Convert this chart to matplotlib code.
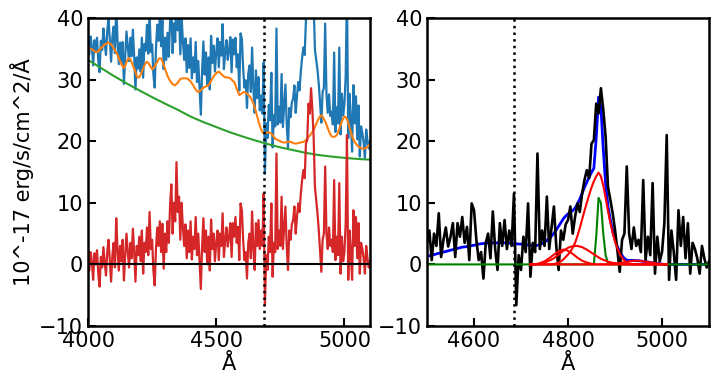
import numpy as np
import matplotlib
matplotlib.use('Agg')
import matplotlib.pyplot as plt

# rest-frame wavelength grid of the spectrum (5 A steps)
wave = np.arange(4000, 5101, 5)

# host-subtracted spectrum (red in left panel, black in right panel)
residual = [
    1.5, -1.0, 2.0, 0.5, -2.5, 1.8, 0.0, 2.3, -1.5, -3.6,
    1.2, -0.5, 2.8, 0.3, -1.8, 2.0, 4.0, 0.5, -2.8, 1.5,
    3.5, -0.5, 7.5, 2.5, -1.0, 3.0, 0.5, 4.0, -2.6, 1.5,
    5.0, 2.0, -0.5, 3.5, 1.0, 5.8, 2.0, -2.8, 3.0, 1.5,
    4.5, 0.5, 5.5, -1.5, 3.5, 2.0, 6.0, 1.5, 8.5, 2.5,
    4.0, -1.0, -3.4, 2.5, 6.0, 3.0, 7.0, 2.0, 6.6, -0.7,
    5.0, 2.0, 7.0, 3.5, 9.5, 13.0, 5.0, 10.0, 7.0, 16.6,
    8.5, 11.0, 4.0, 10.0, 6.0, 3.0, 6.5, 1.0, 5.5, 2.0,
    7.0, 0.8, 4.5, 2.5, 7.7, 1.5, 5.0, 0.5, -4.0, 3.0,
    7.5, 2.0, 5.5, 0.0, 4.5, -1.0, 7.3, 2.5, 5.0, 0.5,
    3.5, 5.5, 0.7, 5.0, 3.0, 8.3, 1.2, 4.0, 6.0, 2.9,
    4.5, 6.7, 1.2, 6.7, 4.5, 7.7, 3.5, 6.1, 0.7, 9.9,
    8.8, 4.0, 0.7, 2.0, -2.3, 3.5, 5.0, 1.0, 8.6, 2.5,
    -0.9, 6.7, 3.0, 7.2, 2.5, 5.5, 3.0, 11.5, -6.6, 1.5,
    -0.9, 4.5, 2.0, 9.9, -2.0, 3.5, 2.0, 18.0, 2.5, 5.5,
    3.0, 11.0, 2.5, 6.0, 9.4, 3.0, -0.9, 5.5, 4.0, 6.5,
    7.2, 9.4, 5.0, 7.7, 9.9, 8.5, 11.5, 13.7, 15.3, 14.0,
    19.6, 20.2, 26.1, 24.5, 28.6, 25.1, 20.7, 12.6, 10.5, 8.3,
    5.6, 2.3, -1.2, 4.0, 5.0, 15.9, 5.0, 2.5, 6.0, 3.0,
    4.0, 2.0, 13.7, 0.7, 4.5, 1.5, 13.2, -1.5, 4.5, 0.5,
    2.0, 6.7, 21.0, -2.5, 5.5, 2.0, -2.5, 8.8, 3.0, 7.7,
    1.0, 6.7, -1.5, 3.5, 2.5, 1.0, -1.5, 3.0, 1.0, -0.5,
    0.5,
]

# host galaxy + continuum model (orange)
host = [
    35.2, 35.1, 35.0, 34.9, 34.8, 34.6, 34.5, 34.5, 34.6, 34.8,
    35.1, 35.3, 35.5, 35.7, 35.8, 35.9, 36.0, 35.9, 35.7, 35.4,
    35.1, 34.8, 34.4, 34.0, 33.5, 33.0, 32.5, 32.1, 31.9, 32.3,
    32.8, 33.3, 33.5, 33.3, 32.8, 32.3, 31.8, 31.2, 30.6, 30.3,
    30.4, 30.8, 31.3, 31.8, 32.3, 32.7, 32.9, 32.7, 32.4, 32.0,
    31.7, 31.8, 32.1, 32.5, 32.9, 33.3, 33.5, 33.4, 33.0, 32.4,
    31.8, 31.2, 30.6, 30.2, 29.8, 29.5, 29.3, 29.1, 29.1, 29.3,
    29.5, 29.8, 30.1, 30.2, 30.2, 30.2, 30.2, 30.2, 30.1, 29.9,
    29.7, 29.4, 29.1, 28.7, 28.4, 28.1, 28.0, 28.1, 28.3, 28.5,
    28.7, 28.8, 28.9, 29.0, 29.1, 29.4, 29.8, 30.2, 30.5, 30.8,
    31.0, 31.2, 31.3, 31.1, 30.9, 30.7, 30.5, 30.4, 30.4, 30.3,
    30.3, 30.2, 30.0, 29.8, 29.6, 29.1, 28.5, 28.0, 27.5, 27.6,
    27.8, 27.9, 28.0, 27.9, 27.7, 27.5, 27.3, 27.0, 26.6, 26.1,
    25.5, 24.8, 24.0, 23.2, 22.5, 21.9, 21.5, 21.3, 21.3, 21.4,
    21.4, 21.4, 21.4, 21.2, 21.0, 20.7, 20.4, 20.3, 20.2, 20.1,
    20.0, 19.9, 19.8, 19.8, 19.8, 19.85, 19.9, 19.9, 19.9, 19.8,
    19.7, 19.65, 19.6, 19.65, 19.7, 19.75, 19.8, 19.85, 19.9, 20.0,
    20.2, 20.4, 20.7, 20.9, 21.2, 21.5, 21.8, 22.3, 22.8, 23.3,
    23.7, 24.0, 24.2, 24.0, 23.6, 23.2, 22.7, 22.1, 21.6, 21.1,
    20.8, 20.7, 20.7, 20.8, 21.0, 21.4, 22.0, 22.6, 23.2, 23.7,
    24.0, 23.9, 23.6, 23.0, 22.2, 21.5, 20.8, 20.3, 19.9, 19.6,
    19.3, 19.1, 19.0, 18.9, 18.8, 18.8, 18.8, 18.9, 19.1, 19.3,
    19.5,
]

# power-law continuum (green), 50 A steps
wave50 = np.arange(4000, 5101, 50)
powerlaw = [33.2, 31.9, 30.6, 29.4, 28.25, 27.15, 26.1, 25.1, 24.0, 23.1, 22.3, 21.5,
            20.8, 20.15, 19.55, 19.0, 18.55, 18.1, 17.75, 17.5, 17.3, 17.12, 17.0]

# line fit components on 4500-5100 (5 A steps)
fit_wave = np.arange(4500, 5101, 5)
n_fit = len(fit_wave)

def place(start, values):
    arr = np.zeros(n_fit)
    i = (start - 4500) // 5
    arr[i:i + len(values)] = values
    return arr

# broad feature under HeII 4686
bump = place(4500, [1.3, 1.4, 1.5, 1.6, 1.7, 1.8, 1.9, 2.0, 2.1, 2.2,
                    2.3, 2.4, 2.5, 2.6, 2.7, 2.8, 2.85, 2.9, 3.0, 3.05,
                    3.1, 3.2, 3.3, 3.35, 3.4, 3.45, 3.45, 3.5, 3.5, 3.5,
                    3.5, 3.5, 3.5, 3.5, 3.45, 3.45, 3.4, 3.4, 3.35, 3.3,
                    3.3, 3.25, 3.2, 3.15, 3.1, 3.05, 3.0, 2.95, 2.9, 2.85,
                    2.8, 2.7, 2.6, 2.5, 2.4, 2.3, 2.2, 2.1, 2.0, 1.85,
                    1.7, 1.55, 1.4, 1.25, 1.1, 0.95, 0.85, 0.75, 0.65, 0.55,
                    0.45, 0.4, 0.35, 0.3, 0.25, 0.2, 0.15, 0.1, 0.1, 0.05])
# broad H-beta components (red), 4720-5010
red_start = 4720
hb_broad1 = [0.0, 0.0, 0.0, 0.0, 0.0, 0.0, 0.0, 0.0, 0.0, 0.0,
             0.05, 0.15, 0.3, 0.5, 0.8, 1.2, 1.6, 2.1, 2.7, 3.5,
             4.6, 5.9, 7.3, 8.7, 10.0, 11.3, 12.5, 13.5, 14.3, 14.9,
             14.3, 12.8, 10.8, 8.7, 6.8, 5.1, 3.7, 2.6, 1.7, 1.1,
             0.6, 0.3, 0.15, 0.1, 0.05, 0.0, 0.0, 0.0, 0.0, 0.0,
             0.0, 0.0, 0.0, 0.0, 0.0, 0.0, 0.0, 0.0, 0.0]
hb_broad2 = [0.0, 0.0, 0.0, 0.05, 0.1, 0.2, 0.3, 0.45, 0.6, 0.8,
             1.0, 1.3, 1.6, 1.9, 2.2, 2.45, 2.7, 2.85, 2.95, 3.0,
             3.0, 2.9, 2.8, 2.6, 2.4, 2.15, 1.9, 1.65, 1.4, 1.15,
             0.9, 0.75, 0.6, 0.45, 0.35, 0.25, 0.2, 0.15, 0.1, 0.05,
             0.0, 0.0, 0.0, 0.0, 0.0, 0.0, 0.0, 0.0, 0.0, 0.0,
             0.0, 0.0, 0.0, 0.0, 0.0, 0.0, 0.0, 0.0, 0.0]
hb_broad3 = [0.0, 0.0, 0.0, 0.1, 0.2, 0.35, 0.5, 0.75, 1.0, 1.3,
             1.6, 1.85, 2.1, 2.3, 2.4, 2.35, 2.2, 1.95, 1.7, 1.4,
             1.1, 0.85, 0.6, 0.45, 0.3, 0.2, 0.1, 0.05, 0.0, 0.0,
             0.0, 0.0, 0.0, 0.0, 0.0, 0.0, 0.0, 0.0, 0.0, 0.0,
             0.0, 0.0, 0.0, 0.0, 0.0, 0.0, 0.0, 0.0, 0.0, 0.0,
             0.0, 0.0, 0.0, 0.0, 0.0, 0.0, 0.0, 0.0, 0.0]
oiii_broad = [0.0, 0.0, 0.0, 0.0, 0.0, 0.0, 0.0, 0.0, 0.0, 0.0,
              0.0, 0.0, 0.0, 0.0, 0.0, 0.0, 0.0, 0.0, 0.0, 0.0,
              0.0, 0.0, 0.0, 0.0, 0.0, 0.0, 0.0, 0.0, 0.0, 0.0,
              0.0, 0.0, 0.0, 0.0, 0.0, 0.05, 0.1, 0.15, 0.2, 0.3,
              0.35, 0.4, 0.5, 0.55, 0.6, 0.6, 0.6, 0.55, 0.5, 0.45,
              0.4, 0.3, 0.25, 0.2, 0.15, 0.1, 0.05, 0.0, 0.0]
# narrow H-beta (green), zero elsewhere
hb_narrow = place(4855, [0.0, 4.5, 10.8, 10.0, 5.0, 1.5, 0.2, 0.0])

red_comps = [place(red_start, c) for c in (hb_broad1, hb_broad2, hb_broad3, oiii_broad)]
total_fit = bump + sum(red_comps) + hb_narrow

residual = np.array(residual)
host = np.array(host)
observed = host + residual
heii = 4686

plt.rcParams['font.size'] = 15
fig, (ax1, ax2) = plt.subplots(1, 2, figsize=(7.18, 3.86), dpi=100)
fig.subplots_adjust(left=0.1226, right=0.9875, bottom=0.1554, top=0.9534, wspace=0.202)

ax1.plot(wave, observed, color='C0', lw=1.6)
ax1.plot(wave, host, color='C1', lw=1.5)
ax1.plot(wave50, powerlaw, color='C2', lw=1.5)
ax1.plot(wave, residual, color='C3', lw=1.6)
ax1.axhline(0, color='k', lw=1.5)
ax1.axvline(heii, color='k', ls=':', lw=1.8)
ax1.set_xlim(4000, 5100)
ax1.set_xticks([4000, 4500, 5000])
ax1.set_ylabel('10^-17 erg/s/cm^2/Å')
ax1.set_xlabel('Å', labelpad=2)

sel = wave >= 4500
ax2.plot(fit_wave, total_fit, color='b', lw=2)
ax2.plot(wave[sel], residual[sel], color='k', lw=1.9)
ax2.plot(fit_wave, hb_narrow, color='g', lw=1.5)
rsel = (fit_wave >= red_start) & (fit_wave <= red_start + 5 * (len(hb_broad1) - 1))
for comp in red_comps:
    ax2.plot(fit_wave[rsel], comp[rsel], color='r', lw=1.5)
ax2.axvline(heii, color='k', ls=':', lw=1.8)
ax2.set_xlim(4500, 5100)
ax2.set_xticks([4600, 4800, 5000])
ax2.set_xlabel('Å', labelpad=2)

for ax in (ax1, ax2):
    ax.set_ylim(-10, 40)
    ax.set_yticks([-10, 0, 10, 20, 30, 40])
    ax.tick_params(direction='in', length=6, width=1.5)
    for sp in ax.spines.values():
        sp.set_linewidth(1.8)

fig.savefig('out.png')
